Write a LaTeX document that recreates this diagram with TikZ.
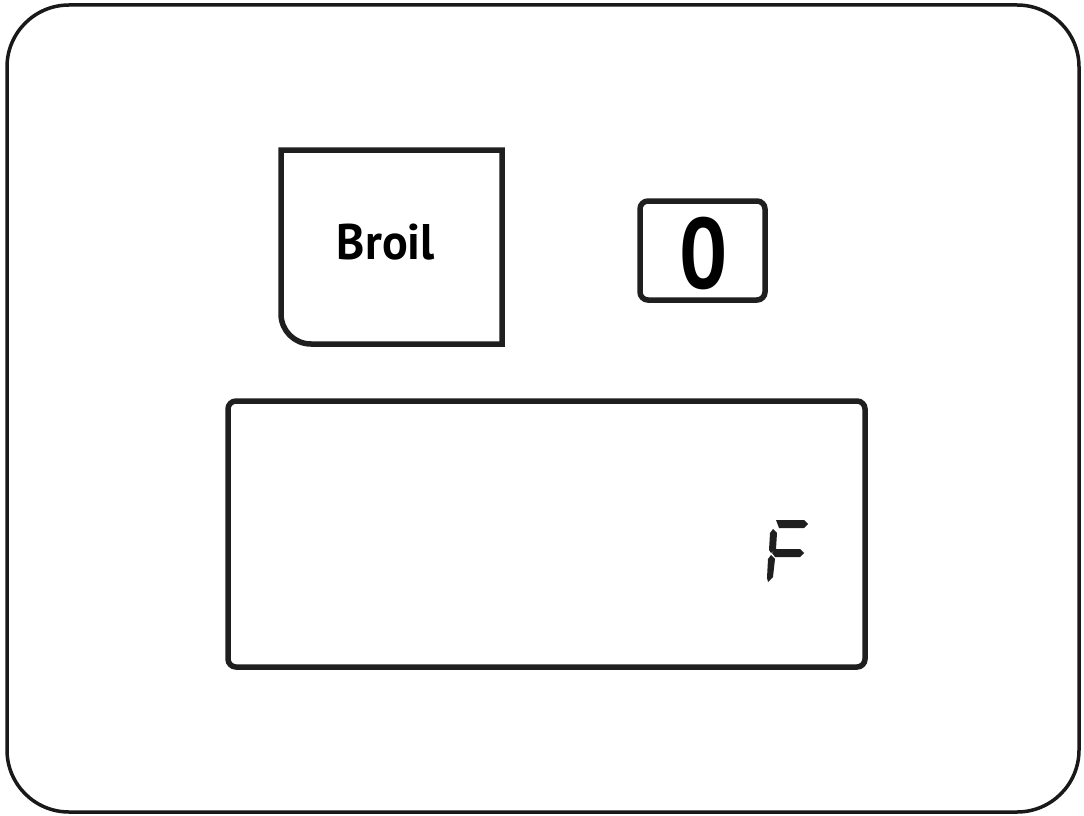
\documentclass[tikz,border=0pt]{standalone}
\usepackage{fontspec}
\setmainfont{PT Sans}
\begin{document}
\begin{tikzpicture}[x=1pt,y=-1pt,
  frame/.style={draw=black!90,line width=3.5pt},
  panel/.style={draw=black!88,line width=5.5pt},
  seg/.style={fill=black!88,draw=none}]
\useasboundingbox (0,0) rectangle (1084,816);
\draw[frame,rounded corners=62pt] (7,5) rectangle (1079,812);
% Broil button
\draw[panel] (281,150) -- (502,150) -- (502,344) -- (311,344) arc[start angle=90,end angle=180,radius=30] -- cycle;
\node[font=\bfseries\fontsize{50}{50}\selectfont,inner sep=0,xscale=0.96] (broil) at (386,242) {Broil};
% digit box
\draw[panel,rounded corners=8pt] (640,201) rectangle (765,300);
\node[font=\bfseries\fontsize{100}{100}\selectfont,inner sep=0,xscale=0.85] (zero) at (704,253) {0};
% display
\draw[panel,rounded corners=8pt] (228,401) rectangle (865,667);
% seven segment F
\fill[seg] (776,520) -- (804,520) -- (808,524) -- (804,528) -- (779,528) -- cycle;
\fill[seg] (773,529) -- (777,533) -- (776,549) -- (771,553) -- (769,550) -- (770,533) -- cycle;
\fill[seg] (775,549) -- (800,549) -- (804,553) -- (800,557) -- (775,557) -- (772,553) -- cycle;
\fill[seg] (771,555) -- (775,559) -- (773,577) -- (768,582) -- (767,578) -- (768,559) -- cycle;
\end{tikzpicture}
\end{document}
